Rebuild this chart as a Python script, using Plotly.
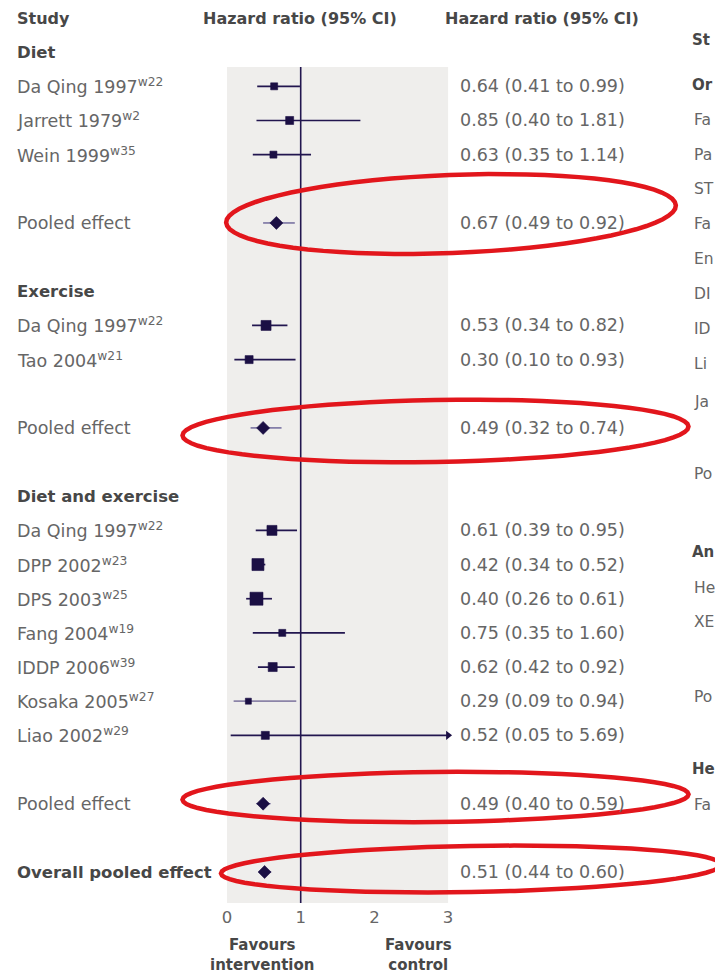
import math
import plotly.graph_objects as go

# ---------------- data ----------------
groups = ["Diet", "Exercise", "Diet and exercise"]
study_group = [0, 0, 0, 1, 1, 2, 2, 2, 2, 2, 2, 2]
study_names = ["Da Qing 1997", "Jarrett 1979", "Wein 1999",
               "Da Qing 1997", "Tao 2004",
               "Da Qing 1997", "DPP 2002", "DPS 2003", "Fang 2004",
               "IDDP 2006", "Kosaka 2005", "Liao 2002"]
study_refs = ["w22", "w2", "w35", "w22", "w21",
              "w22", "w23", "w25", "w19", "w39", "w27", "w29"]
study_hr = [0.64, 0.85, 0.63, 0.53, 0.30, 0.61, 0.42, 0.40, 0.75, 0.62, 0.29, 0.52]
study_lo = [0.41, 0.40, 0.35, 0.34, 0.10, 0.39, 0.34, 0.26, 0.35, 0.42, 0.09, 0.05]
study_hi = [0.99, 1.81, 1.14, 0.82, 0.93, 0.95, 0.52, 0.61, 1.60, 0.92, 0.94, 5.69]

pooled_hr = [0.67, 0.49, 0.49]
pooled_lo = [0.49, 0.32, 0.40]
pooled_hi = [0.92, 0.74, 0.59]

overall_hr = 0.51
overall_lo = 0.44
overall_hi = 0.60

x_ticks = [0, 1, 2, 3]
x_max = 3

# second forest plot, cut off at the right edge of the reference image
right_panel_labels = ["St", "Or", "Fa", "Pa", "ST", "Fa", "En", "DI", "ID", "Li",
                      "Ja", "Po", "An", "He", "XE", "Po", "He", "Fa"]
right_panel_bold = [True, True, False, False, False, False, False, False, False, False,
                    False, False, True, False, False, False, True, False]

# ---------------- style ----------------
W, H = 715, 975
PLOT_H = 903            # plot area bottom (pixels)
X0_PX, X_SCALE = 227.0, 73.7
ROW0_PX, ROW_PITCH = 18.0, 34.16
NAVY = "#22164F"
MARK = "#1B0F44"
TXT = "#666666"
HEAD = "#474747"
RED = "#E2161C"
FONT = "DejaVu Sans"
box_size = [7, 8, 7, 10, 8, 10, 12, 13, 7, 9, 6, 8]
diamond_size = [10, 10, 10, 10]
right_rows_px = [40, 85, 120, 155, 189, 224, 259, 294, 329, 364, 402, 474,
                 552, 588, 622, 697, 769, 805]


def px_to_xp(px):
    return px / W


def py_to_yp(py):
    return 1 - py / PLOT_H


# ---------------- row layout ----------------
rows_label = []   # (row, text, bold)
study_rows = []
pooled_rows = []
r = 1
si = 0
for g, gname in enumerate(groups):
    rows_label.append((r, gname, True))
    r += 1
    for k in range(study_group.count(g)):
        study_rows.append(r)
        rows_label.append((r, f"{study_names[si]}<sup>{study_refs[si]}</sup>", False))
        si += 1
        r += 1
    r += 1
    pooled_rows.append(r)
    rows_label.append((r, "Pooled effect", False))
    r += 2
overall_row = r
rows_label.append((overall_row, "Overall pooled effect", True))

fig = go.Figure()

# grey panel + reference line
panel_top_row = (67 - ROW0_PX) / ROW_PITCH
bottom_row = (PLOT_H - ROW0_PX) / ROW_PITCH
fig.add_shape(type="rect", xref="x", yref="y", x0=0, x1=x_max, y0=panel_top_row, y1=bottom_row,
              fillcolor="#EFEEEC", line_width=0, layer="below")
fig.add_shape(type="line", xref="x", yref="y", x0=1, x1=1, y0=panel_top_row, y1=bottom_row,
              line=dict(color=NAVY, width=1.6), layer="below")

# study CIs
for i in range(len(study_hr)):
    col = "#8C84A8" if study_names[i].startswith("Kosaka") else NAVY
    fig.add_trace(go.Scatter(x=[study_lo[i], min(study_hi[i], x_max)], y=[study_rows[i]] * 2,
                             mode="lines", line=dict(color=col, width=1.7),
                             hoverinfo="skip", showlegend=False))
fig.add_trace(go.Scatter(x=study_hr, y=study_rows, mode="markers",
                         marker=dict(symbol="square", size=box_size, color=MARK,
                                     line=dict(width=0.6, color=MARK), opacity=1),
                         showlegend=False))
arrow_x = [x_max for h in study_hi if h > x_max]
arrow_y = [study_rows[i] for i, h in enumerate(study_hi) if h > x_max]
fig.add_trace(go.Scatter(x=arrow_x, y=arrow_y, mode="markers",
                         marker=dict(symbol="triangle-right", size=8, color=MARK, opacity=1),
                         showlegend=False))

# pooled
all_p_hr = pooled_hr + [overall_hr]
all_p_lo = pooled_lo + [overall_lo]
all_p_hi = pooled_hi + [overall_hi]
all_p_rows = pooled_rows + [overall_row]
for i in range(len(all_p_hr)):
    fig.add_trace(go.Scatter(x=[all_p_lo[i], all_p_hi[i]], y=[all_p_rows[i]] * 2, mode="lines",
                             line=dict(color="#5E5690", width=1.3), showlegend=False))
fig.add_trace(go.Scatter(x=all_p_hr, y=all_p_rows, mode="markers",
                         marker=dict(symbol="diamond", size=diamond_size, color=MARK,
                                     line=dict(width=0.6, color=MARK), opacity=1),
                         showlegend=False))

# ---------------- text ----------------
ann = []
ann.append(dict(x=px_to_xp(15), y=0, xref="paper", yref="y", text="<b>Study</b>",
                xanchor="left", font=dict(size=16, color=HEAD)))
ann.append(dict(x=px_to_xp(300), y=0, xref="paper", yref="y", text="<b>Hazard ratio (95% CI)</b>",
                xanchor="center", font=dict(size=16, color=HEAD)))
ann.append(dict(x=px_to_xp(443), y=0, xref="paper", yref="y", text="<b>Hazard ratio (95% CI)</b>",
                xanchor="left", font=dict(size=16, color=HEAD)))
for row, text, bold in rows_label:
    ann.append(dict(x=px_to_xp(15), y=row, xref="paper", yref="y",
                    text=f"<b>{text}</b>" if bold else text, xanchor="left",
                    font=dict(size=16.5 if bold else 17.5, color=HEAD if bold else TXT)))
for i in range(len(study_hr)):
    ann.append(dict(x=px_to_xp(458), y=study_rows[i], xref="paper", yref="y", xanchor="left",
                    text=f"{study_hr[i]:.2f} ({study_lo[i]:.2f} to {study_hi[i]:.2f})",
                    font=dict(size=17.5, color=TXT)))
for i in range(len(all_p_hr)):
    ann.append(dict(x=px_to_xp(458), y=all_p_rows[i], xref="paper", yref="y", xanchor="left",
                    text=f"{all_p_hr[i]:.2f} ({all_p_lo[i]:.2f} to {all_p_hi[i]:.2f})",
                    font=dict(size=17.5, color=TXT)))
ann.append(dict(x=px_to_xp(262), y=py_to_yp(955), xref="paper", yref="paper",
                text="<b>Favours<br>intervention</b>", xanchor="center", yanchor="middle",
                font=dict(size=15, color=HEAD)))
ann.append(dict(x=px_to_xp(418), y=py_to_yp(955), xref="paper", yref="paper",
                text="<b>Favours<br>control</b>", xanchor="center", yanchor="middle",
                font=dict(size=15, color=HEAD)))
for lab, py, b in zip(right_panel_labels, right_rows_px, right_panel_bold):
    ann.append(dict(x=px_to_xp(690 if b else 692), y=py_to_yp(py), xref="paper", yref="paper",
                    text=f"<b>{lab}</b>" if b else lab, xanchor="left", yanchor="middle",
                    font=dict(size=15 if b else 15.5, color=HEAD if b else TXT)))
for a in ann:
    a["showarrow"] = False
    a.setdefault("yanchor", "middle")

# ---------------- red ellipses (annotation highlights) ----------------
ellipses = [  # cx, cy, a, b, angle(deg) in pixels
    (451, 214, 225, 39, -2.2),
    (435.5, 431, 253, 31, -1.0),
    (435.5, 797, 253, 25, -0.6),
    (471, 869, 250, 23, -1.0),
]
for cx, cy, a, b, ang in ellipses:
    t = math.radians(ang)
    pts = []
    for k in range(73):
        th = 2 * math.pi * k / 72
        ex, ey = a * math.cos(th), b * math.sin(th)
        px = cx + ex * math.cos(t) - ey * math.sin(t)
        py = cy + ex * math.sin(t) + ey * math.cos(t)
        pts.append(f"{px_to_xp(px):.5f},{py_to_yp(py):.5f}")
    path = "M " + " L ".join(pts) + " Z"
    fig.add_shape(type="path", xref="paper", yref="paper", path=path,
                  line=dict(color=RED, width=4.5), fillcolor="rgba(0,0,0,0)", layer="above")

fig.update_layout(
    width=W, height=H,
    margin=dict(l=0, r=0, t=0, b=H - PLOT_H, pad=0),
    paper_bgcolor="white", plot_bgcolor="white",
    font=dict(family=FONT, size=16, color=TXT),
    annotations=ann, showlegend=False,
    xaxis=dict(range=[-X0_PX / X_SCALE, (W - X0_PX) / X_SCALE], tickvals=x_ticks,
               ticktext=[str(v) for v in x_ticks], showgrid=False, zeroline=False,
               showline=False, ticks="", tickfont=dict(size=16.5, color=TXT, family=FONT),
               ticklabelstandoff=2, fixedrange=True),
    yaxis=dict(range=[bottom_row, -ROW0_PX / ROW_PITCH], showgrid=False, zeroline=False,
               showline=False, showticklabels=False, ticks="", fixedrange=True),
)

fig.write_html("out.html", post_script="document.body.style.margin='0';",
               config={"displayModeBar": False})
